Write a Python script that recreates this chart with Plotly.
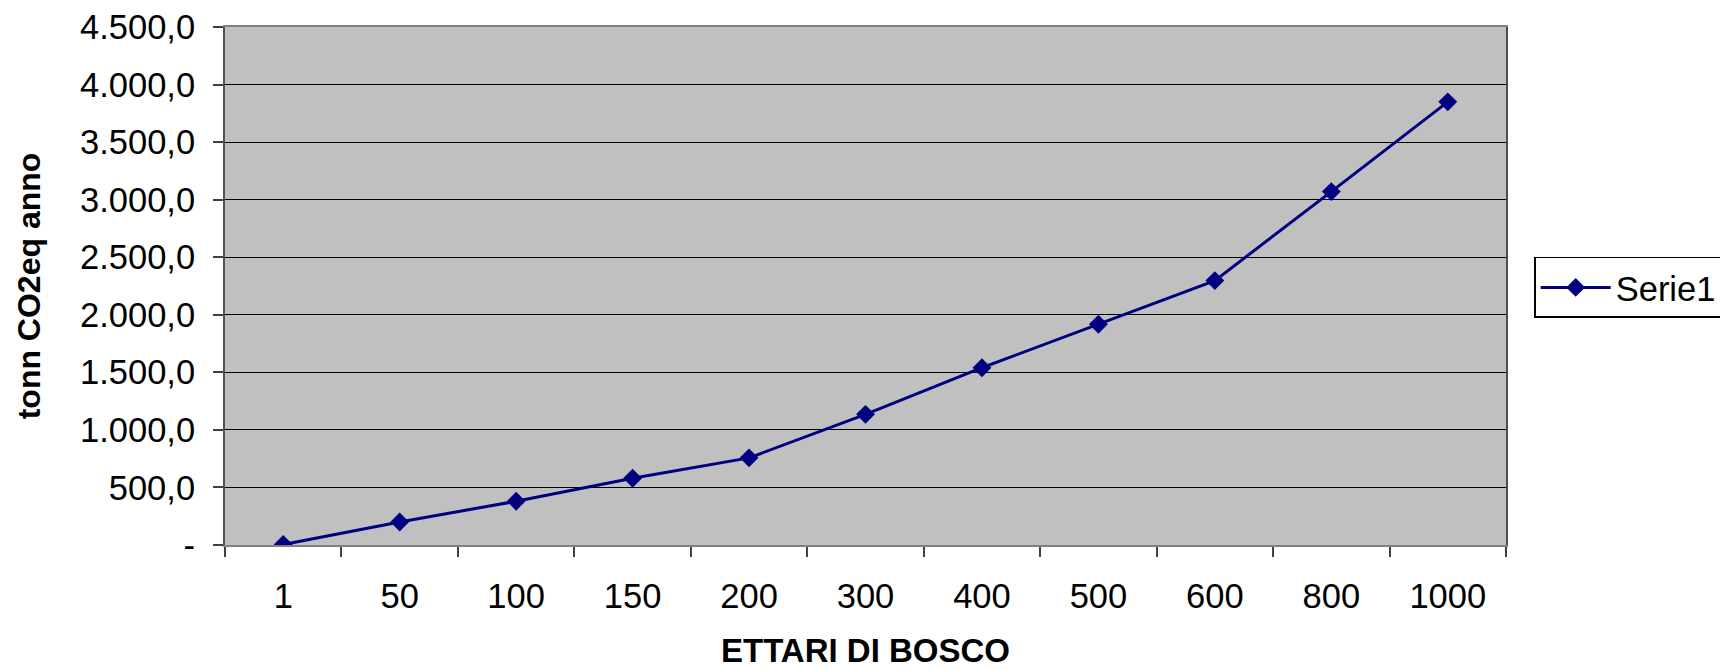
import plotly.graph_objects as go

# Hectares of woodland (category axis) and yearly CO2eq absorbed
ettari = ["1", "50", "100", "150", "200", "300", "400", "500", "600", "800", "1000"]
co2_tonn = [4, 200, 380, 580, 757, 1135, 1540, 1918, 2297, 3070, 3850]

# Y tick values and their Italian-format labels (zero shown as a dash)
y_ticks = [0, 500, 1000, 1500, 2000, 2500, 3000, 3500, 4000, 4500]
y_labels = ["-", "500,0", "1.000,0", "1.500,0", "2.000,0", "2.500,0",
            "3.000,0", "3.500,0", "4.000,0", "4.500,0"]

FONT = "Liberation Sans, Arial, sans-serif"
NAVY = "#000080"
TICK_SIZE = 34.5

fig = go.Figure()
fig.add_trace(go.Scatter(
    x=ettari, y=co2_tonn, name="Serie1", mode="lines+markers",
    line=dict(color=NAVY, width=3),
    marker=dict(symbol="diamond", size=14.5, color=NAVY),
))

fig.update_layout(
    width=1720, height=669,
    margin=dict(l=225, r=214, t=27, b=124, autoexpand=False),
    paper_bgcolor="white", plot_bgcolor="#C0C0C0",
    font=dict(family=FONT, size=32, color="black"),
    showlegend=True,
    legend=dict(
        orientation="h",
        x=1.022, y=0.556, xanchor="left", yanchor="top",
        bgcolor="white", bordercolor="black", borderwidth=1.5,
        font=dict(family=FONT, size=TICK_SIZE, color="black"),
        itemwidth=70, entrywidth=230, entrywidthmode="pixels",
        tracegroupgap=0,
    ),
)

fig.update_xaxes(
    type="category", range=[-0.5, 10.5],
    showgrid=False, zeroline=False,
    showline=True, linecolor="#808080", linewidth=2, mirror=True,
    ticks="outside", tickson="boundaries", ticklen=10, tickwidth=1.5, tickcolor="#404040",
    ticklabelstandoff=20,
    tickfont=dict(family=FONT, size=TICK_SIZE, color="black"),
    title=dict(text="<b>ETTARI DI BOSCO</b>", standoff=25,
               font=dict(family=FONT, size=33, color="black")),
)

fig.update_yaxes(
    range=[0, 4500], tickvals=y_ticks, ticktext=y_labels,
    showgrid=True, gridcolor="black", gridwidth=1.2, zeroline=False,
    showline=True, linecolor="#505050", linewidth=2, mirror=True,
    ticks="outside", ticklen=10, tickwidth=1.5, tickcolor="#404040",
    ticklabelstandoff=11,
    tickfont=dict(family=FONT, size=TICK_SIZE, color="black"),
    title=dict(text="<b>tonn CO2eq anno</b>", standoff=30,
               font=dict(family=FONT, size=32, color="black")),
)

fig.write_html("out.html")
